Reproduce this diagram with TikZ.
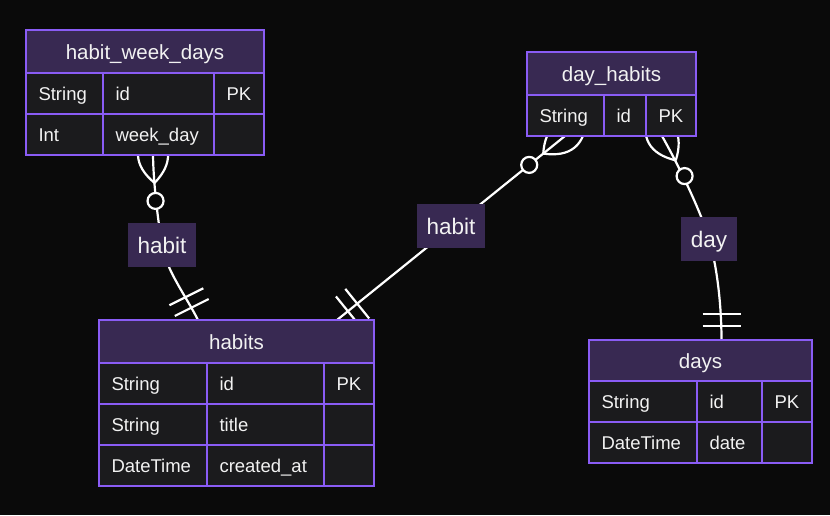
\documentclass[tikz,border=0pt]{standalone}
\usepackage{fontspec}
\setmainfont{Liberation Sans}
\usepackage{tikz}
\usetikzlibrary{calc}
\definecolor{canvas}{HTML}{0A0A0A}
\definecolor{head}{HTML}{382952}
\definecolor{rowbg}{HTML}{1B1B1D}
\definecolor{edge}{HTML}{8A5CF5}
\definecolor{ink}{HTML}{F2F2F2}
\pgfdeclarelayer{paper}
\pgfdeclarelayer{links}
\pgfsetlayers{paper,links,main}
\newcommand{\manyend}[2]{%
  \coordinate (lensC) at ($(#1)!28pt!(#2)$);
  \coordinate (lensF) at ($(#1)!-28pt!(#2)$);
  \coordinate (lensA) at ($(#1)!30pt!90:(#2)$);
  \coordinate (lensB) at ($(#1)!30pt!-90:(#2)$);
  \draw[rel] (lensC) .. controls ($(lensC)!0.6667!(lensA)$) and ($(lensF)!0.6667!(lensA)$) .. (lensF)
    .. controls ($(lensF)!0.6667!(lensB)$) and ($(lensC)!0.6667!(lensB)$) .. (lensC);
  \draw[rel,fill=canvas] ($(#1)!46pt!(#2)$) circle[radius=8pt];}
\newcommand{\oneend}[2]{%
  \coordinate (bar1) at ($(#1)!14pt!(#2)$);
  \coordinate (bar2) at ($(#1)!26pt!(#2)$);
  \draw[rel] ($(bar1)!19pt!90:(#2)$) -- ($(bar1)!19pt!-90:(#2)$)
    ($(bar2)!19pt!90:(#2)$) -- ($(bar2)!19pt!-90:(#2)$);}
\begin{document}
\begin{tikzpicture}[x=1pt,y=-1pt,
  hd/.style={anchor=north west,outer sep=0pt,draw=edge,fill=head,line width=2pt,minimum height=43pt,inner sep=0pt,text=ink,font=\fontsize{20.5}{24}\selectfont,text height=15pt,text depth=0pt},
  cell/.style={anchor=north west,outer sep=0pt,draw=edge,fill=rowbg,line width=2pt,minimum height=41pt,inner xsep=12.5pt,inner ysep=0pt,align=left,text=ink,font=\fontsize{18.5}{22}\selectfont,text height=14pt,text depth=0pt},
  lbl/.style={fill=head,text=ink,font=\fontsize{22.5}{26}\selectfont,minimum height=44pt,inner xsep=10pt,inner ysep=0pt,text height=16.5pt,text depth=0pt},
  rel/.style={draw=white,line width=2.2pt}]
  \begin{pgfonlayer}{paper}
    \fill[canvas] (0,0) rectangle (830,515);
  \end{pgfonlayer}
  \useasboundingbox (0,0) rectangle (830,515);
  \node[hd,minimum width=238pt] (hwd) at (26,30) {habit\_week\_days};
  \foreach \ty/\nm/\k [count=\r from 0] in {String/id/PK,Int/week\_day/}{
    \node[cell,text width=52pt] (hwd-t\r) at (26,{73+41*\r}) {\ty};
    \node[cell,text width=86pt] (hwd-n\r) at (103,{73+41*\r}) {\nm};
    \node[cell,text width=25pt] (hwd-k\r) at (214,{73+41*\r}) {\k};
  }
  \node[hd,minimum width=169pt] (dh) at (527,52) {day\_habits};
  \foreach \ty/\nm/\k [count=\r from 0] in {String/id/PK}{
    \node[cell,text width=52pt] (dh-t\r) at (527,{95+41*\r}) {\ty};
    \node[cell,text width=17pt] (dh-n\r) at (604,{95+41*\r}) {\nm};
    \node[cell,text width=25pt] (dh-k\r) at (646,{95+41*\r}) {\k};
  }
  \node[hd,minimum width=275pt] (hb) at (99,320) {habits};
  \foreach \ty/\nm/\k [count=\r from 0] in {String/id/PK,String/title/,DateTime/created\_at/}{
    \node[cell,text width=83pt] (hb-t\r) at (99,{363+41*\r}) {\ty};
    \node[cell,text width=92pt] (hb-n\r) at (207,{363+41*\r}) {\nm};
    \node[cell,text width=25pt] (hb-k\r) at (324,{363+41*\r}) {\k};
  }
  \node[hd,minimum width=223pt,minimum height=41pt] (dy) at (589,340) {days};
  \foreach \ty/\nm/\k [count=\r from 0] in {String/id/PK,DateTime/date/}{
    \node[cell,text width=83pt] (dy-t\r) at (589,{381+41*\r}) {\ty};
    \node[cell,text width=40pt] (dy-n\r) at (697,{381+41*\r}) {\nm};
    \node[cell,text width=25pt] (dy-k\r) at (762,{381+41*\r}) {\k};
  }
  \node[lbl] (lab1) at (162,245) {habit};
  \node[lbl] (lab2) at (451,226) {habit};
  \node[lbl] (lab3) at (709,239) {day};
  \coordinate (hwdout) at (153,155);
  \coordinate (hbin1) at (198,320);
  \coordinate (hbin2) at (337,320);
  \coordinate (dhout1) at (565,136);
  \coordinate (dhout2) at (662,136);
  \coordinate (dysin) at (721.5,340);
  \begin{pgfonlayer}{links}
    \draw[rel] (hwdout) .. controls (153.5,185) and (158,220) .. (lab1.center) .. controls (166,270) and (186,296) .. (hbin1);
    \draw[rel] (hbin2) -- (dhout1);
    \draw[rel] (dhout2) .. controls (680,168) and (701,212) .. (lab3.center) .. controls (717,266) and (721.5,305) .. (dysin);
    \manyend{hwdout}{155.5,200}
    \oneend{hbin1}{173,270}
    \manyend{dhout1}{hbin2}
    \oneend{hbin2}{dhout1}
    \manyend{dhout2}{684,175}
    \oneend{dysin}{721.5,300}
  \end{pgfonlayer}
\end{tikzpicture}
\end{document}
